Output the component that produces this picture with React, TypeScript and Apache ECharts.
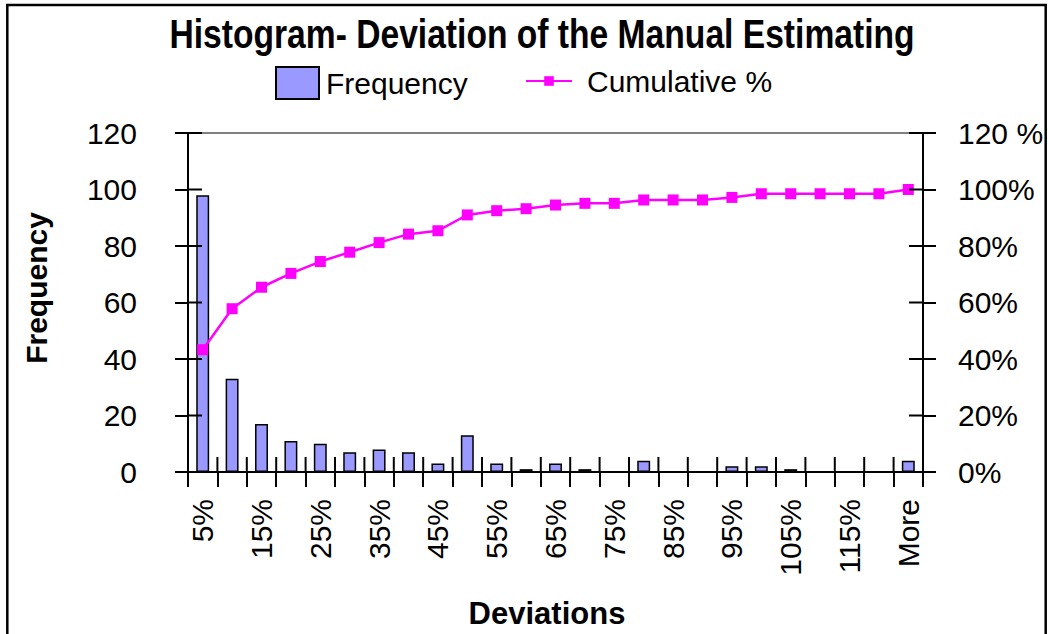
import React, { useEffect, useRef } from "react";
import * as echarts from "echarts";

const categories = [
  "5%", "10%", "15%", "20%", "25%", "30%", "35%", "40%", "45%", "50%",
  "55%", "60%", "65%", "70%", "75%", "80%", "85%", "90%", "95%", "100%",
  "105%", "110%", "115%", "120%", "More",
];
const frequency = [98, 33, 17, 11, 10, 7, 8, 7, 3, 13, 3, 1, 3, 1, 0, 4, 0, 0, 2, 2, 1, 0, 0, 0, 4];
const cumulativePct = [
  43.3, 57.8, 65.4, 70.3, 74.5, 77.8, 81.2, 84.2, 85.4, 91.0,
  92.5, 93.2, 94.5, 95.1, 95.1, 96.3, 96.3, 96.3, 97.2, 98.5,
  98.5, 98.5, 98.5, 98.5, 100,
];
const yTickValues = [0, 20, 40, 60, 80, 100, 120];
const leftTicks = { min: 0, max: 120, interval: 20 };

const FONT = "'Liberation Sans', Arial, sans-serif";

export default function App() {
  const ref = useRef<HTMLDivElement>(null);
  useEffect(() => {
    if (!ref.current) return;
    const chart = echarts.init(ref.current, null, { renderer: "svg" });
    const black = "#000";
    const labelStyle = { color: black, fontSize: 30, fontFamily: FONT };
    const tickStyle = { color: black, width: 2 };
    const TICK_IN = 14;
    chart.setOption({
      animation: false,
      backgroundColor: "#fff",
      textStyle: { fontFamily: FONT, color: black },
      grid: { left: 188, right: 125, top: 133, bottom: 162, containLabel: false },
      legend: [
        {
          data: [{ name: "Frequency", icon: "rect" }],
          left: 275,
          top: 66,
          padding: 0,
          itemWidth: 43,
          itemHeight: 32,
          textStyle: { fontSize: 30, color: black, fontFamily: FONT, padding: [0, 0, 0, 2] },
        },
        {
          data: ["Cumulative %"],
          left: 525,
          top: 66,
          padding: 0,
          itemWidth: 46,
          itemHeight: 12,
          textStyle: { fontSize: 30, color: black, fontFamily: FONT, padding: [0, 0, 0, 10] },
        },
      ],
      xAxis: [
        {
          type: "category",
          data: categories,
          position: "bottom",
          axisLine: { show: true, onZero: false, lineStyle: { color: black, width: 2 } },
          axisTick: { show: true, interval: 0, length: 15, lineStyle: tickStyle },
          axisLabel: { ...labelStyle, interval: 1, rotate: 90, margin: 27 },
          splitLine: { show: false },
          z: 5,
        },
        {
          type: "category",
          data: categories,
          position: "top",
          axisLine: { show: true, onZero: false, lineStyle: { color: "#808080", width: 2 } },
          axisTick: { show: false },
          axisLabel: { show: false },
          splitLine: { show: false },
        },
      ],
      yAxis: [
        {
          type: "value",
          position: "left",
          ...leftTicks,
          axisLine: { show: true, onZero: false, lineStyle: { color: black, width: 2 } },
          axisTick: { show: true, length: 13, lineStyle: tickStyle },
          axisLabel: { ...labelStyle, margin: 51 },
          splitLine: { show: false },
          z: 5,
        },
        {
          type: "value",
          position: "right",
          ...leftTicks,
          axisLine: { show: true, onZero: false, lineStyle: { color: black, width: 2 } },
          axisTick: { show: true, length: 13, lineStyle: tickStyle },
          axisLabel: {
            ...labelStyle,
            margin: 35,
            formatter: (v: number) => (v === 120 ? "120 %" : v + "%"),
          },
          splitLine: { show: false },
          z: 5,
        },
      ],
      series: [
        {
          name: "Frequency",
          type: "bar",
          xAxisIndex: 0,
          yAxisIndex: 0,
          data: frequency,
          barWidth: "44%",
          itemStyle: { color: "#9999FF", borderColor: black, borderWidth: 1.5 },
          z: 2,
        },
        {
          name: "Cumulative %",
          type: "line",
          xAxisIndex: 0,
          yAxisIndex: 1,
          data: cumulativePct,
          symbol: "rect",
          symbolSize: 11,
          lineStyle: { color: "#FF00FF", width: 2.5 },
          itemStyle: { color: "#FF00FF" },
          z: 3,
        },
        {
          // inner halves of the category-boundary ticks (Excel "cross" ticks)
          name: "xTicksInner",
          type: "custom",
          xAxisIndex: 0,
          yAxisIndex: 0,
          clip: false,
          silent: true,
          z: 4,
          data: categories.map((_, i) => [i, 0]),
          renderItem: (params: any, api: any) => {
            const i = api.value(0);
            const c = api.coord([i, 0]);
            const w = api.size([1, 0])[0];
            const xs = [c[0] - w / 2];
            if (i === categories.length - 1) xs.push(c[0] + w / 2);
            return {
              type: "group",
              children: xs.map((x) => ({
                type: "line",
                shape: { x1: x, y1: c[1], x2: x, y2: c[1] - 15 },
                style: { stroke: black, lineWidth: 2 },
              })),
            };
          },
        },
        {
          // inner halves of the value-axis ticks on both sides
          name: "yTicksInner",
          type: "custom",
          xAxisIndex: 0,
          yAxisIndex: 0,
          clip: false,
          silent: true,
          z: 4,
          data: yTickValues.map((v) => [0, v]),
          renderItem: (params: any, api: any) => {
            const y = api.coord([0, api.value(1)])[1];
            const cs = params.coordSys;
            return {
              type: "group",
              children: [
                {
                  type: "line",
                  shape: { x1: cs.x, y1: y, x2: cs.x + TICK_IN, y2: y },
                  style: { stroke: black, lineWidth: 2 },
                },
                {
                  type: "line",
                  shape: { x1: cs.x + cs.width - TICK_IN, y1: y, x2: cs.x + cs.width, y2: y },
                  style: { stroke: black, lineWidth: 2 },
                },
              ],
            };
          },
        },
      ],
      graphic: [
        {
          type: "rect",
          shape: { x: 7.3, y: 5, width: 1038.4, height: 700 },
          style: { fill: "none", stroke: black, lineWidth: 2.5 },
          silent: true,
          z: 100,
        },
        {
          type: "text",
          x: 542,
          y: 34,
          scaleX: 0.82,
          style: {
            text: "Histogram- Deviation of the Manual Estimating",
            fontSize: 41,
            fontWeight: "bold",
            fontFamily: FONT,
            fill: black,
            align: "center",
            verticalAlign: "middle",
          },
        },
        {
          type: "text",
          x: 36,
          y: 288,
          rotation: Math.PI / 2,
          style: {
            text: "Frequency",
            fontSize: 30,
            fontWeight: "bold",
            fontFamily: FONT,
            fill: black,
            align: "center",
            verticalAlign: "middle",
          },
        },
        {
          type: "text",
          x: 547,
          y: 613,
          style: {
            text: "Deviations",
            fontSize: 31,
            fontWeight: "bold",
            fontFamily: FONT,
            fill: black,
            align: "center",
            verticalAlign: "middle",
          },
        },
      ],
    });
    return () => chart.dispose();
  }, []);
  return (
    <div
      ref={ref}
      style={{ position: "absolute", left: 0, top: 0, width: 1048, height: 634 }}
    />
  );
}
